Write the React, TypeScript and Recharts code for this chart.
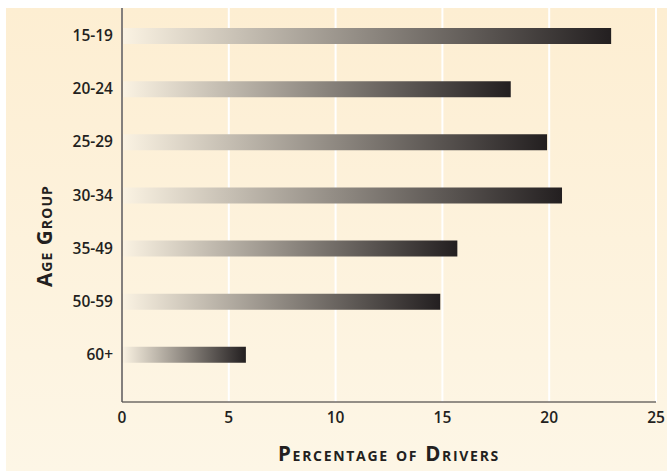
import { Bar, BarChart, CartesianGrid, Label, XAxis, YAxis } from "recharts";

const ageGroups = ["15-19", "20-24", "25-29", "30-34", "35-49", "50-59", "60+"];
const driverShares = [22.9, 18.2, 19.9, 20.6, 15.7, 14.9, 5.8];
const percentTicks = [0, 5, 10, 15, 20, 25];

const data = ageGroups.map((age, i) => ({ age, share: driverShares[i] }));

const font = "'Open Sans', 'DejaVu Sans', sans-serif";
const ink = "#231f20";

function AxisTitle({ viewBox, text, dx, dy, vertical, spacing }: any) {
  const vb = viewBox || { x: 0, y: 0, width: 0, height: 0 };
  const cx = vertical ? vb.x + dx : vb.x + vb.width / 2 + dx;
  const cy = vertical ? vb.y + vb.height / 2 + dy : vb.y + dy;
  return (
    <text
      x={cx}
      y={cy}
      textAnchor="middle"
      transform={vertical ? `rotate(-90, ${cx}, ${cy})` : undefined}
      style={{
        fontFamily: font,
        fontWeight: 700,
        fontSize: 20.5,
        fontVariant: "small-caps",
        letterSpacing: spacing,
        fill: ink,
      }}
    >
      {text}
    </text>
  );
}

export default function App() {
  return (
    <div style={{ position: "fixed", left: 0, top: 0, width: 667, height: 471, background: "#fff" }}>
      <div
        style={{
          position: "absolute",
          left: 6,
          top: 8,
          width: 661,
          height: 463,
          background: "linear-gradient(180deg, #fdeed2 0%, #fdf6e6 100%)",
        }}
      />
      <div style={{ position: "absolute", left: 0, top: 0 }}>
        <BarChart
          width={667}
          height={471}
          data={data}
          layout="vertical"
          margin={{ top: 8, right: 11, bottom: 39, left: 0 }}
        >
          <defs>
            <linearGradient id="barShade" x1="0" y1="0" x2="1" y2="0">
              <stop offset="0%" stopColor="#fbf3e3" />
              <stop offset="100%" stopColor={ink} />
            </linearGradient>
          </defs>
          <CartesianGrid horizontal={false} stroke="#ffffff" strokeWidth={2} />
          <XAxis
            type="number"
            domain={[0, 25]}
            ticks={percentTicks}
            tickLine={false}
            tickMargin={4}
            axisLine={{ stroke: "#6f6b67", strokeWidth: 1.5 }}
            tick={{ fill: ink, fontFamily: font, fontWeight: 600, fontSize: 15.5 }}
          >
            <Label
              content={(props: any) => (
                <AxisTitle
                  {...props}
                  text="Percentage of Drivers"
                  dx={0}
                  dy={59}
                  vertical={false}
                  spacing={1.7}
                />
              )}
            />
          </XAxis>
          <YAxis
            type="category"
            dataKey="age"
            width={122}
            tickLine={false}
            tickMargin={3}
            padding={{ top: 1, bottom: 21 }}
            axisLine={{ stroke: "#5a5552", strokeWidth: 1.5 }}
            tick={{ fill: ink, fontFamily: font, fontWeight: 600, fontSize: 15.5 }}
          >
            <Label
              content={(props: any) => (
                <AxisTitle {...props} text="Age Group" dx={52} dy={31} vertical spacing={1.1} />
              )}
            />
          </YAxis>
          <Bar dataKey="share" barSize={16} fill="url(#barShade)" isAnimationActive={false} />
        </BarChart>
      </div>
    </div>
  );
}
